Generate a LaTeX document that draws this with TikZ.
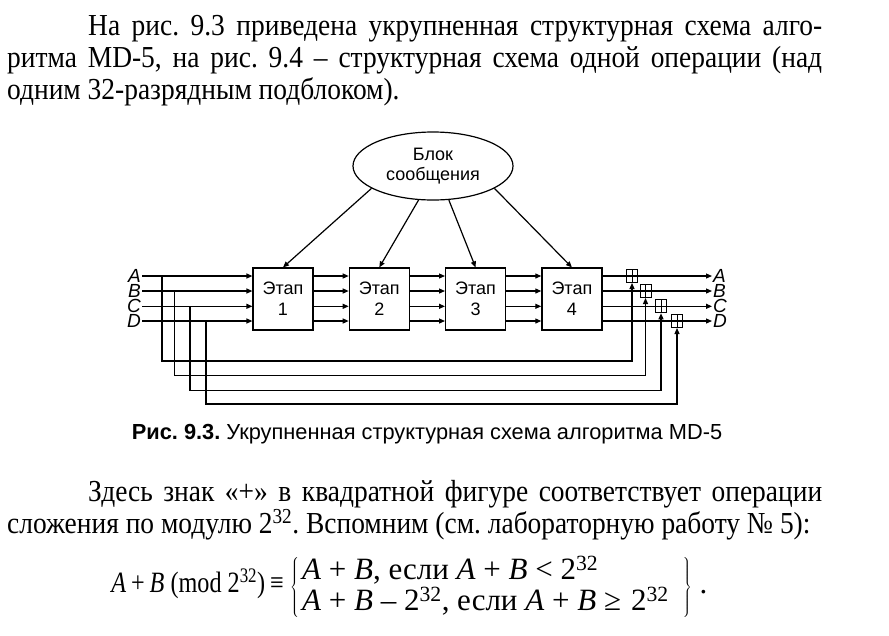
\documentclass[tikz,border=0pt]{standalone}
\usepackage{fontspec}
\setmainfont{Liberation Serif}[FakeStretch=0.9]
\newfontfamily\formulafont{Liberation Serif}
\newfontfamily\lhsfont{Liberation Serif}[FakeStretch=0.82]
\newfontfamily\diagfont{Liberation Sans}
\usetikzlibrary{shapes.geometric, arrows.meta, positioning}
\tikzstyle{stage} = [rectangle, draw, line width=1.2pt, text centered, align=center, minimum width=60pt, minimum height=62pt, inner sep=0pt, font=\diagfont\fontsize{18}{21}\selectfont]
\tikzstyle{message} = [ellipse, draw, line width=1.2pt, align=center, minimum width=160pt, minimum height=68pt, inner sep=0pt, font=\diagfont\fontsize{18}{20}\selectfont]
\tikzstyle{adder} = [rectangle, draw, line width=1pt, minimum width=11pt, minimum height=13pt, inner sep=0pt, path picture={\draw[line width=1pt] (path picture bounding box.north) -- (path picture bounding box.south) (path picture bounding box.west) -- (path picture bounding box.east);}]
\tikzstyle{signal} = [inner sep=1pt, font=\diagfont\itshape\fontsize{19}{19}\selectfont]
\tikzstyle{arrow} = [line width=1.2pt,->,>={Triangle[length=6pt,width=5pt]}]
\tikzstyle{para} = [inner sep=0pt, text width=815pt, align=justify, font=\fontsize{30.5}{32}\selectfont]

\frenchspacing
\begin{document}
\begin{tikzpicture}[x=1pt, y=-1pt, node distance=96.3pt]
    \useasboundingbox (0,0) rectangle (889,635);

    % Text above the figure
    \node (intro) [para, anchor=base west] at (7,35) {\hyphenpenalty=10000\hspace*{81pt}На рис. 9.3 приведена укрупненная структурная схема алго-\linebreak ритма MD-5, на рис. 9.4 – структурная схема одной операции (над \linebreak одним 32-разрядным подблоком).};

    % Message block and stages
    \node (msg) [message] at (433,166) {Блок\\сообщения};
    \node (stage1) [stage] at (283,299) {Этап\\1};
    \node (stage2) [stage, right of=stage1] {Этап\\2};
    \node (stage3) [stage, right of=stage2] {Этап\\3};
    \node (stage4) [stage, right of=stage3] {Этап\\4};

    % Inputs and outputs
    \node (inA) [signal, anchor=east] at (142,276) {A};
    \node (inB) [signal, anchor=east] at (142,291) {B};
    \node (inC) [signal, anchor=east] at (142,306.3) {C};
    \node (inD) [signal, anchor=east] at (142,321) {D};

    \node (outA) [signal, anchor=west] at (712,276) {A};
    \node (outB) [signal, anchor=west] at (712,291) {B};
    \node (outC) [signal, anchor=west] at (712,306.3) {C};
    \node (outD) [signal, anchor=west] at (712,321) {D};

    % Adders mod 2^32
    \node (addA) [adder] at (632,276) {};
    \node (addB) [adder] at (645.5,291) {};
    \node (addC) [adder] at (661,306.3) {};
    \node (addD) [adder] at (677,321) {};

    % Feedback corners
    \coordinate (tapA) at (162,361);
    \coordinate (tapB) at (174.5,375.5);
    \coordinate (tapC) at (190,390.5);
    \coordinate (tapD) at (206,404);

    % Caption
    \node (caption) [font=\diagfont\fontsize{21.8}{24}\selectfont] at (427,434) {\textbf{Рис. 9.3.} Укрупненная структурная схема алгоритма MD-5};

    % Text below the figure
    \node (note) [para, anchor=base west] at (7,501) {\hyphenpenalty=10000\parfillskip=0pt\hspace*{81pt}Здесь знак «+» в квадратной фигуре соответствует операции \linebreak сложения по модулю 2\textsuperscript{32}. Вспомним (см. лабораторную работу №~5):};

    \node (lhs) [inner sep=0pt, anchor=base east, font=\lhsfont\fontsize{29.5}{32}\selectfont] at (284,592) {\textit{A}\,+\,\textit{B} (mod 2\textsuperscript{32})\,≡};
    \node (rhs) [inner sep=0pt, anchor=west, font=\formulafont\fontsize{31}{32}\selectfont] at (290,587) {\renewcommand\arraystretch{0.8}$\left\{\begin{tabular}{@{\hspace{3pt}}l@{}}\textit{A} + \textit{B}, если \textit{A} + \textit{B} < 2\textsuperscript{32}\\ \textit{A} + \textit{B} – 2\textsuperscript{32}, если \textit{A} + \textit{B} ≥\hspace{10pt}2\textsuperscript{32}\kern14pt\end{tabular}\right\}$\hspace{8pt}.};

    % ==== Arrows
    % Message block to stages
    \draw [arrow] (msg.200) -- (stage1.north);
    \draw [arrow] (msg.247) -- (stage2.north);
    \draw [arrow] (msg.295) -- (stage3.north);
    \draw [arrow] (msg.340) -- (stage4.north);

    % Into stage 1
    \draw [arrow] (inA.east) -- (stage1.west |- inA);
    \draw [arrow] (inB.east) -- (stage1.west |- inB);
    \draw [arrow] (inC.east) -- (stage1.west |- inC);
    \draw [arrow] (inD.east) -- (stage1.west |- inD);

    % Between stages
    \draw [arrow] (stage1.east |- inA) -- (stage2.west |- inA);
    \draw [arrow] (stage1.east |- inB) -- (stage2.west |- inB);
    \draw [arrow] (stage1.east |- inC) -- (stage2.west |- inC);
    \draw [arrow] (stage1.east |- inD) -- (stage2.west |- inD);
    \draw [arrow] (stage2.east |- inA) -- (stage3.west |- inA);
    \draw [arrow] (stage2.east |- inB) -- (stage3.west |- inB);
    \draw [arrow] (stage2.east |- inC) -- (stage3.west |- inC);
    \draw [arrow] (stage2.east |- inD) -- (stage3.west |- inD);
    \draw [arrow] (stage3.east |- inA) -- (stage4.west |- inA);
    \draw [arrow] (stage3.east |- inB) -- (stage4.west |- inB);
    \draw [arrow] (stage3.east |- inC) -- (stage4.west |- inC);
    \draw [arrow] (stage3.east |- inD) -- (stage4.west |- inD);

    % Out of stage 4 through the adders
    \draw [arrow] (stage4.east |- outA) -- (outA.west);
    \draw [arrow] (stage4.east |- outB) -- (outB.west);
    \draw [arrow] (stage4.east |- outC) -- (outC.west);
    \draw [arrow] (stage4.east |- outD) -- (outD.west);

    % Feedback of the inputs
    \draw [arrow] (tapA |- inA) -- (tapA) -| (addA.south);
    \draw [arrow] (tapB |- inB) -- (tapB) -| (addB.south);
    \draw [arrow] (tapC |- inC) -- (tapC) -| (addC.south);
    \draw [arrow] (tapD |- inD) -- (tapD) -| (addD.south);

\end{tikzpicture}
\end{document}
